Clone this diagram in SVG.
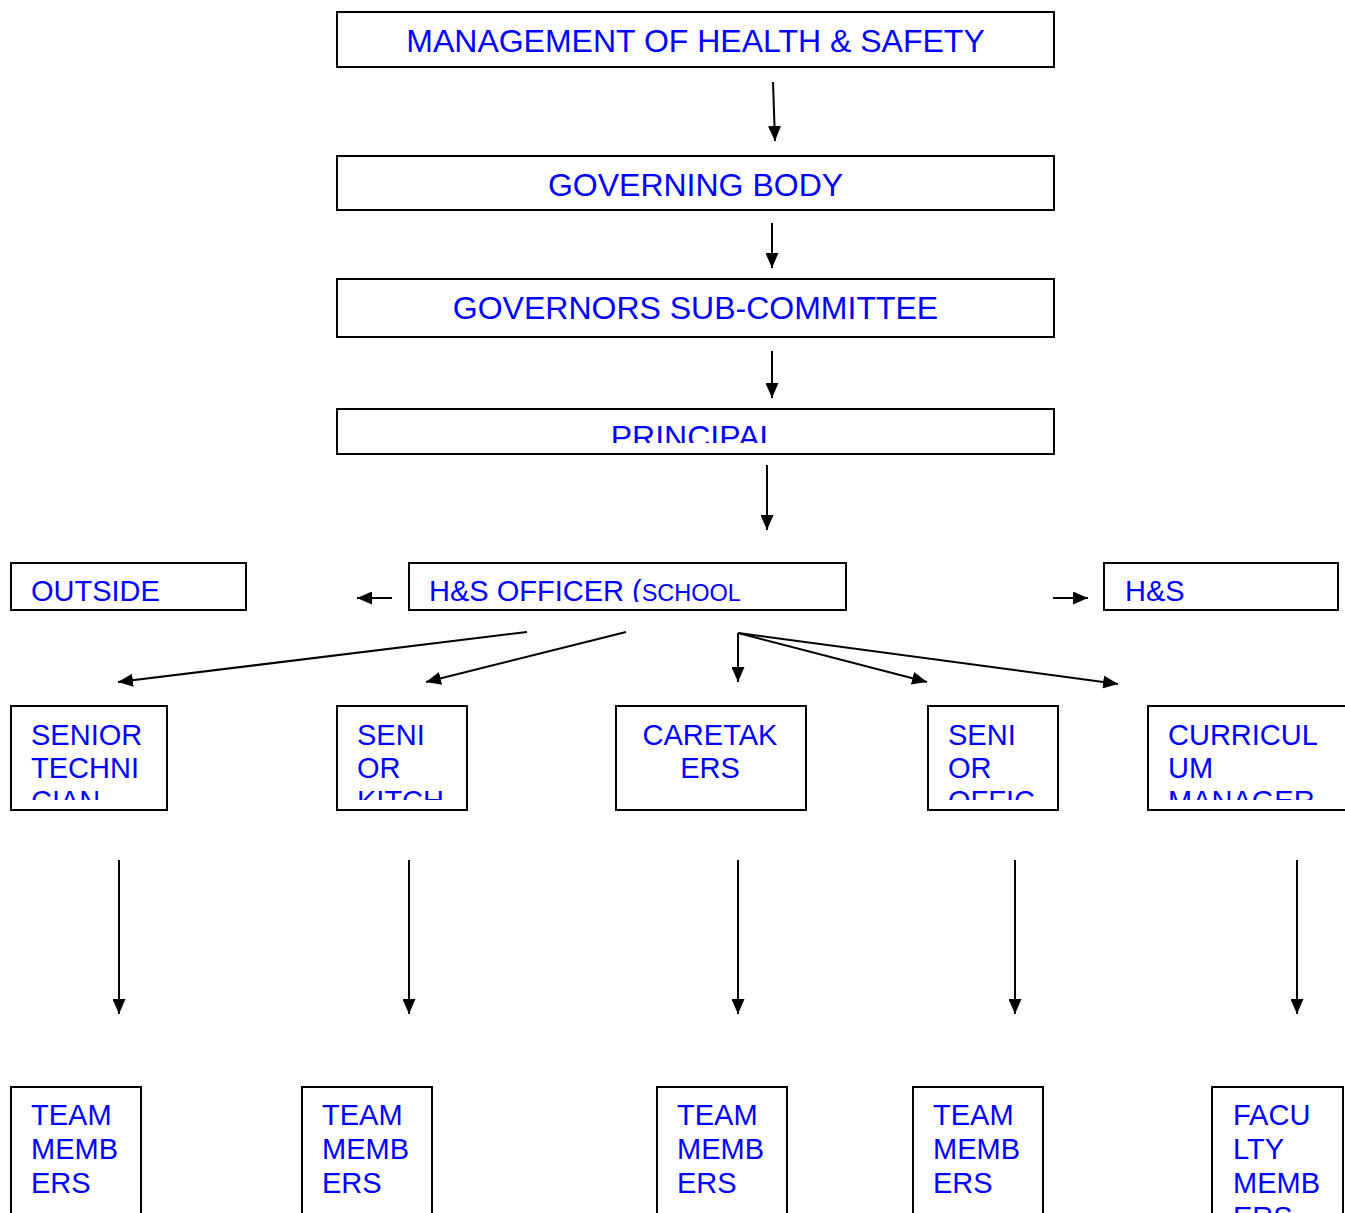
<svg xmlns="http://www.w3.org/2000/svg" width="1345" height="1213" viewBox="0 0 1345 1213">
<style>
.box{fill:#fff;stroke:#000;stroke-width:2}
.t{font-family:"Liberation Sans",Arial,sans-serif;fill:#0000FF}
.big{font-size:32px;text-anchor:middle}
.sm{font-size:29px}
.conn line{stroke:#000;stroke-width:2;marker-end:url(#ah)}
</style>
<defs>
<marker id="ah" markerUnits="userSpaceOnUse" markerWidth="15" markerHeight="13" refX="15" refY="6.5" orient="auto">
<path d="M0,0 L15,6.5 L0,13 z" fill="#000"/>
</marker>
<clipPath id="cPrin"><rect x="337" y="409" width="717" height="34"/></clipPath>
<clipPath id="cRow2"><rect x="0" y="560" width="1345" height="42"/></clipPath>
<clipPath id="cRow3"><rect x="0" y="700" width="1345" height="100"/></clipPath>
</defs>

<g id="n-management">
<rect class="box" x="337" y="12" width="717" height="55"/>
<text class="t big" x="695.5" y="52">MANAGEMENT OF HEALTH &amp; SAFETY</text>
</g>
<g id="n-governing">
<rect class="box" x="337" y="156" width="717" height="54"/>
<text class="t big" x="695.5" y="196">GOVERNING BODY</text>
</g>
<g id="n-subcommittee">
<rect class="box" x="337" y="279" width="717" height="58"/>
<text class="t big" x="695.5" y="319">GOVERNORS SUB-COMMITTEE</text>
</g>
<g id="n-principal">
<rect class="box" x="337" y="409" width="717" height="45"/>
<text class="t big" x="694" y="448" clip-path="url(#cPrin)">PRINCIPAL</text>
</g>

<g id="n-outside">
<rect class="box" x="11" y="563" width="235" height="47"/>
<text class="t sm" x="31" y="601" clip-path="url(#cRow2)">OUTSIDE</text>
</g>
<g id="n-hsofficer">
<rect class="box" x="409" y="563" width="437" height="47"/>
<text class="t sm" x="429" y="601" clip-path="url(#cRow2)">H&amp;S OFFICER (<tspan font-size="23.5">SCHOOL</tspan></text>
</g>
<g id="n-hs">
<rect class="box" x="1104" y="563" width="234" height="47"/>
<text class="t sm" x="1125" y="601" clip-path="url(#cRow2)">H&amp;S</text>
</g>

<g id="n-seniortech">
<rect class="box" x="11" y="706" width="156" height="104"/>
<text class="t sm" clip-path="url(#cRow3)"><tspan x="31" y="745">SENIOR</tspan><tspan x="31" y="778">TECHNI</tspan><tspan x="31" y="811">CIAN</tspan></text>
</g>
<g id="n-seniorkitch">
<rect class="box" x="337" y="706" width="130" height="104"/>
<text class="t sm" clip-path="url(#cRow3)"><tspan x="357" y="745">SENI</tspan><tspan x="357" y="778">OR</tspan><tspan x="357" y="811">KITCH</tspan></text>
</g>
<g id="n-caretakers">
<rect class="box" x="616" y="706" width="190" height="104"/>
<text class="t sm" text-anchor="middle"><tspan x="710" y="745">CARETAK</tspan><tspan x="710" y="778">ERS</tspan></text>
</g>
<g id="n-senioroffic">
<rect class="box" x="928" y="706" width="130" height="104"/>
<text class="t sm" clip-path="url(#cRow3)"><tspan x="948" y="745">SENI</tspan><tspan x="948" y="778">OR</tspan><tspan x="948" y="811">OFFIC</tspan></text>
</g>
<g id="n-curriculum">
<rect class="box" x="1148" y="706" width="210" height="104"/>
<text class="t sm" clip-path="url(#cRow3)"><tspan x="1168" y="745">CURRICUL</tspan><tspan x="1168" y="778">UM</tspan><tspan x="1168" y="811">MANAGER</tspan></text>
</g>

<g id="n-team1">
<rect class="box" x="11" y="1087" width="130" height="140"/>
<text class="t sm"><tspan x="31" y="1125">TEAM</tspan><tspan x="31" y="1159">MEMB</tspan><tspan x="31" y="1193">ERS</tspan></text>
</g>
<g id="n-team2">
<rect class="box" x="302" y="1087" width="130" height="140"/>
<text class="t sm"><tspan x="322" y="1125">TEAM</tspan><tspan x="322" y="1159">MEMB</tspan><tspan x="322" y="1193">ERS</tspan></text>
</g>
<g id="n-team3">
<rect class="box" x="657" y="1087" width="130" height="140"/>
<text class="t sm"><tspan x="677" y="1125">TEAM</tspan><tspan x="677" y="1159">MEMB</tspan><tspan x="677" y="1193">ERS</tspan></text>
</g>
<g id="n-team4">
<rect class="box" x="913" y="1087" width="130" height="140"/>
<text class="t sm"><tspan x="933" y="1125">TEAM</tspan><tspan x="933" y="1159">MEMB</tspan><tspan x="933" y="1193">ERS</tspan></text>
</g>
<g id="n-faculty">
<rect class="box" x="1212" y="1087" width="131" height="140"/>
<text class="t sm"><tspan x="1233" y="1125">FACU</tspan><tspan x="1233" y="1159">LTY</tspan><tspan x="1233" y="1193">MEMB</tspan><tspan x="1233" y="1227">ERS</tspan></text>
</g>

<g id="connectors" class="conn">
<line x1="773" y1="82" x2="775" y2="141"/>
<line x1="772" y1="223" x2="772" y2="268"/>
<line x1="772" y1="351" x2="772" y2="398"/>
<line x1="767" y1="465" x2="767" y2="530"/>
<line x1="392" y1="598" x2="357" y2="598"/>
<line x1="1053" y1="598" x2="1088" y2="598"/>
<line x1="527" y1="632" x2="118" y2="682"/>
<line x1="626" y1="632" x2="426" y2="682"/>
<line x1="738" y1="633" x2="738" y2="682"/>
<line x1="738" y1="633" x2="927" y2="682"/>
<line x1="738" y1="633" x2="1118" y2="684"/>
<line x1="119" y1="860" x2="119" y2="1014"/>
<line x1="409" y1="860" x2="409" y2="1014"/>
<line x1="738" y1="860" x2="738" y2="1014"/>
<line x1="1015" y1="860" x2="1015" y2="1014"/>
<line x1="1297" y1="860" x2="1297" y2="1014"/>
</g>
</svg>
